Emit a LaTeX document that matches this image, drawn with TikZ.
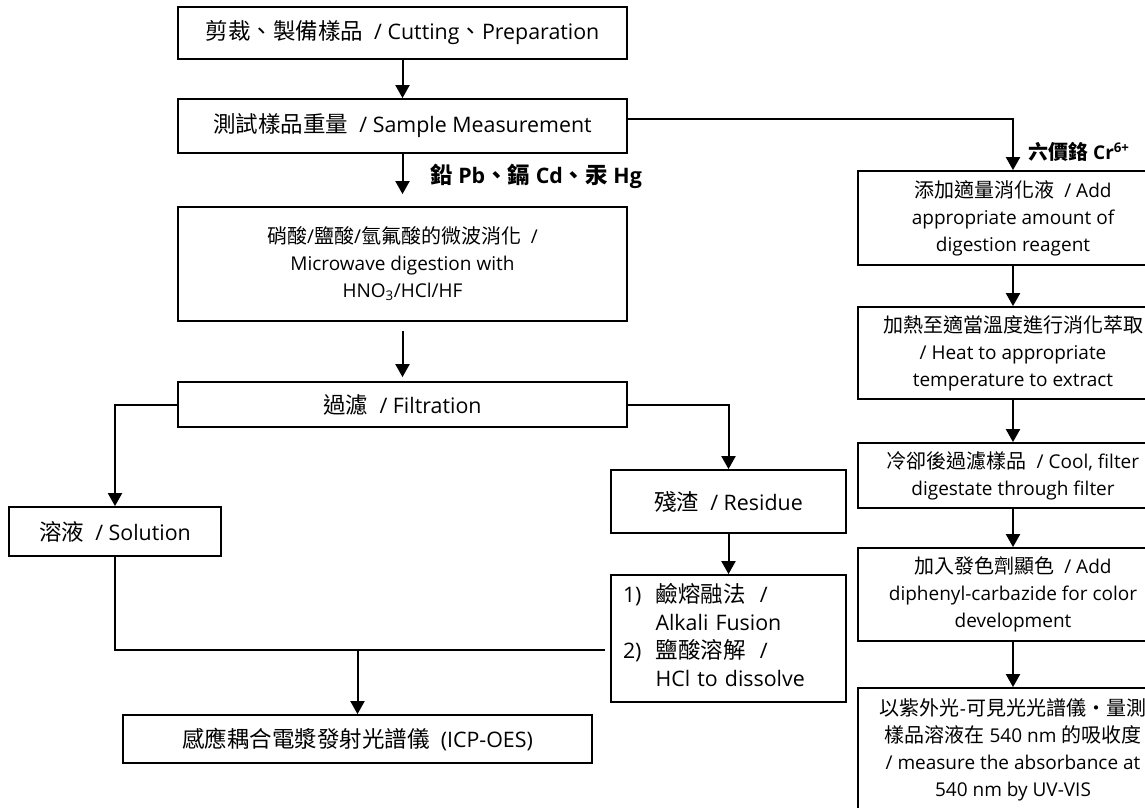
\documentclass[tikz,border=0pt]{standalone}
\usepackage{fontspec}
\setmainfont[Scale=0.95]{Open Sans}
\newfontfamily\cjkfont{Noto Sans CJK TC}
\usetikzlibrary{arrows.meta}
\XeTeXinterchartokenstate=1
\newcount\cjkc
\def\setcjkrange#1#2{\cjkc=#1 \loop\XeTeXcharclass\cjkc=10 \ifnum\cjkc<#2 \advance\cjkc by 1 \repeat}
\setcjkrange{"3000}{"30FF}
\setcjkrange{"3400}{"4DBF}
\setcjkrange{"4E00}{"9FFF}
\setcjkrange{"FF00}{"FFEF}
\XeTeXinterchartoks 0 10 = {\cjkfont}
\XeTeXinterchartoks 4095 10 = {\cjkfont}
\XeTeXinterchartoks 10 0 = {\rmfamily}
\XeTeXinterchartoks 10 4095 = {\rmfamily}
\newcommand\bigtxt{\fontsize{22.5}{28}\selectfont}
\newcommand\smalltxt{\fontsize{20}{27}\selectfont}
\begin{document}
\begin{tikzpicture}[x=1pt,y=1pt]
\tikzstyle{every node}+=[inner sep=0pt]
\tikzstyle{box}=[draw=black, line width=1.8pt, align=center, font=\bigtxt]
\tikzstyle{rbox}=[box, minimum width=310pt, font=\smalltxt]
\tikzstyle{arr}=[black, line width=2pt, -{Triangle[length=13pt,width=14pt]}]
\tikzstyle{lbl}=[anchor=west, font=\bigtxt\bfseries]
\useasboundingbox (0,0) rectangle (1145,-807);
\clip (0,0) rectangle (1145,-807);
\node [box, minimum width=449pt, minimum height=52pt] (cut) at (402.5,-33) {剪裁、製備樣品~ / Cutting、Preparation};
\node [box, minimum width=449pt, minimum height=54pt] (weigh) at (402.5,-126) {測試樣品重量~ / Sample Measurement};
\node [lbl] (pblab) at (430,-176) {鉛 Pb、鎘 Cd、汞 Hg};
\node [box, minimum width=449pt, minimum height=114pt, font=\smalltxt] (micro) at (402.5,-264) {硝酸/鹽酸/氫氟酸的微波消化~ /\\Microwave digestion with\\HNO\textsubscript{3}/HCl/HF};
\node [box, minimum width=449pt, minimum height=45pt] (filt) at (402.5,-404.5) {過濾~ / Filtration};
\node [box, minimum width=212pt, minimum height=49pt] (sol) at (115,-531.5) {溶液~ / Solution};
\node [box, minimum width=235pt, minimum height=63pt] (resid) at (728.5,-501.5) {殘渣~ / Residue};
\node [box, text width=211pt, inner xsep=12pt, minimum height=127pt, align=left] (fusion) at (728.5,-638.5) {\begin{tabular}{@{}l@{\hspace{14pt}}l@{}}1) & 鹼熔融法~ /\\ & Alkali Fusion\\2) & 鹽酸溶解~ /\\ & HCl to dissolve\end{tabular}};
\node [box, minimum width=469pt, minimum height=48pt] (icp) at (357.5,-739) {感應耦合電漿發射光譜儀~ (ICP-OES)};
\node [lbl, font=\smalltxt\bfseries] (crlab) at (1028,-152) {六價鉻 Cr\textsuperscript{6+}};
\node [rbox, minimum height=94pt] (rA) at (1013,-218) {添加適量消化液~ / Add\\appropriate amount of\\digestion reagent};
\node [rbox, minimum height=92pt] (rB) at (1013,-353) {加熱至適當溫度進行消化萃取\\/ Heat to appropriate\\temperature to extract};
\node [rbox, minimum height=65pt] (rC) at (1013,-475.5) {冷卻後過濾樣品~ / Cool, filter\\digestate through filter};
\node [rbox, minimum height=93pt] (rD) at (1013,-594.5) {加入發色劑顯色~ / Add\\diphenyl-carbazide for color\\development};
\node [rbox, minimum height=124pt] (rE) at (1013,-750) {以紫外光-可見光光譜儀・量測\\樣品溶液在 540 nm 的吸收度\\/ measure the absorbance at\\540 nm by UV-VIS};
\coordinate (solend) at (605,-650);
\coordinate (icptop) at (357.5,-650);
\draw [arr] (cut) -- (weigh);
\draw [arr, shorten >=12pt] (weigh) -- (micro);
\draw [arr, shorten <=9pt, shorten >=4pt] (micro) -- (filt);
\draw [arr] (filt.west) -| (sol);
\draw [arr] (filt.east) -| (resid);
\draw [arr] (resid) -- (fusion);
\draw [black, line width=1.4pt] (sol) |- (solend);
\draw [arr] (icptop) -- (icp);
\draw [arr] ([yshift=7pt]weigh.east) -| (rA);
\draw [arr] (rA) -- (rB);
\draw [arr] (rB) -- (rC);
\draw [arr] (rC) -- (rD);
\draw [arr] (rD) -- (rE);
\end{tikzpicture}
\end{document}
